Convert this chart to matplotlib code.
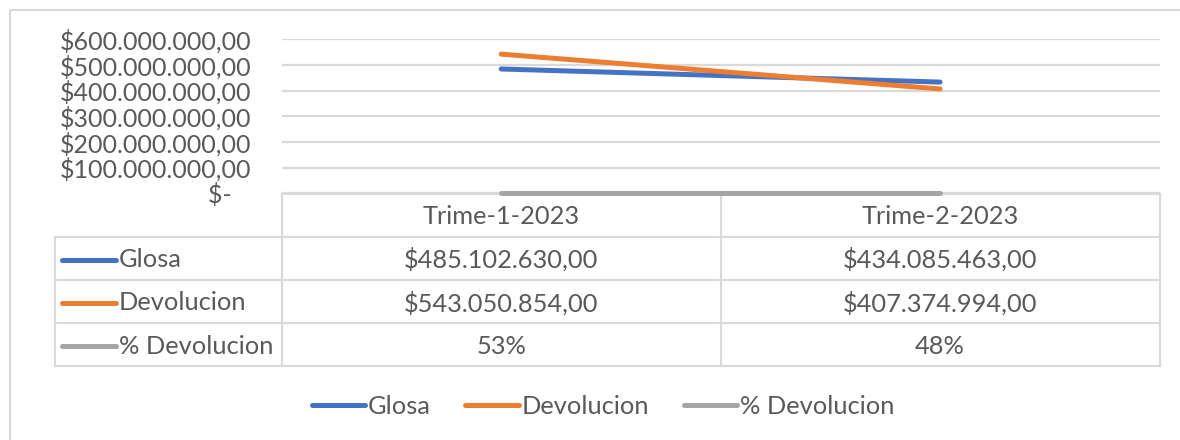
import matplotlib
matplotlib.use("Agg")
import matplotlib.pyplot as plt
from matplotlib.patches import Rectangle
from matplotlib.ticker import FuncFormatter, MultipleLocator

# ---------------- data ----------------
categories = ["Trime-1-2023", "Trime-2-2023"]
series_names = ["Glosa", "Devolucion", "% Devolucion"]
glosa = [485102630.00, 434085463.00]
devolucion = [543050854.00, 407374994.00]
pct_devolucion = [0.53, 0.48]
y_max = 600000000
y_step = 100000000

colors = ["#4472C4", "#ED7D31", "#A5A5A5"]
text_color = "#595959"
grid_color = "#D9D9D9"
FONT = "Lato"
FS_AX = 18
FS_TB = 18.3

W, H = 1180, 440
fig = plt.figure(figsize=(W / 100, H / 100), dpi=100)
fig.patch.set_facecolor("white")


def fx(x):
    return x / W


def fy(y):
    return 1 - y / H


def money(v):
    if v == 0:
        return "$-   "
    s = f"{v:,.2f}"
    s = s.replace(",", "X").replace(".", ",").replace("X", ".")
    return "$" + s


def pct(v):
    return f"{round(v * 100)}%"


# ---------------- plot area ----------------
L, R, T, B = 281.7, 1159.5, 39.5, 193.5
ax = fig.add_axes([fx(L), fy(B), fx(R) - fx(L), fy(T) - fy(B)])
ax.set_xlim(-0.5, len(categories) - 0.5)
ax.set_ylim(0, y_max)
ax.yaxis.set_major_locator(MultipleLocator(y_step))
ax.yaxis.set_major_formatter(FuncFormatter(lambda v, p: money(v)))
ax.set_xticks([])
for s in ax.spines.values():
    s.set_visible(False)
ax.grid(axis="y", color=grid_color, linewidth=1.6)
ax.set_axisbelow(True)
ax.tick_params(axis="y", length=0, pad=22, labelsize=FS_AX, labelcolor=text_color)
for lab in ax.get_yticklabels():
    lab.set_fontfamily(FONT)

xs = list(range(len(categories)))
all_series = [glosa, devolucion, pct_devolucion]
handles = []
for name, vals, c in zip(series_names, all_series, colors):
    ln, = ax.plot(xs, vals, color=c, linewidth=3.6, solid_capstyle="round",
                  clip_on=False, label=name, zorder=3)
    handles.append(ln)

# ---------------- overlay for table / border ----------------
ov = fig.add_axes([0, 0, 1, 1], zorder=-1)
ov.set_xlim(0, W)
ov.set_ylim(H, 0)
ov.axis("off")

# chart border
ov.add_patch(Rectangle((10, 10), W + 20, H + 20, fill=False,
                       edgecolor=grid_color, linewidth=1.5))

# data table
tl, tm, tr = 55, L, R
mid = (L + R) / 2
rows_y = [194, 237, 280.5, 323.5, 366.5]
lw = 1.5
ov.plot([tm, tr], [rows_y[0], rows_y[0]], color=grid_color, lw=lw)
for y in rows_y[1:]:
    ov.plot([tl, tr], [y, y], color=grid_color, lw=lw)
ov.plot([tl, tl], [rows_y[1], rows_y[-1]], color=grid_color, lw=lw)
ov.plot([tm, tm], [rows_y[0], rows_y[-1]], color=grid_color, lw=lw)
ov.plot([mid, mid], [rows_y[0], rows_y[-1]], color=grid_color, lw=lw)
ov.plot([tr, tr], [rows_y[0], rows_y[-1]], color=grid_color, lw=lw)

col_centers = [(tm + mid) / 2, (mid + tr) / 2]
tkw = dict(fontsize=FS_TB, color=text_color, family=FONT, va="center")
for cx, cat in zip(col_centers, categories):
    ov.text(cx, (rows_y[0] + rows_y[1]) / 2 + 1, cat, ha="center", **tkw)

formatters = [money, money, pct]
for i, (name, vals, c, f) in enumerate(zip(series_names, all_series, colors, formatters)):
    yc = (rows_y[i + 1] + rows_y[i + 2]) / 2 + 1
    ov.plot([62, 116], [yc, yc], color=c, lw=3.6, solid_capstyle="round")
    ov.text(119, yc, name, ha="left", **tkw)
    for cx, v in zip(col_centers, vals):
        ov.text(cx, yc, f(v), ha="center", **tkw)

# ---------------- legend ----------------
leg = fig.legend(handles=handles, labels=series_names, ncol=3,
                 loc="center", bbox_to_anchor=(fx(603), fy(406)),
                 frameon=False, handlelength=2.1, handletextpad=0.12,
                 columnspacing=1.35, prop={"family": FONT, "size": FS_TB})
for t in leg.get_texts():
    t.set_color(text_color)

fig.savefig("out.png", dpi=100, facecolor="white")
